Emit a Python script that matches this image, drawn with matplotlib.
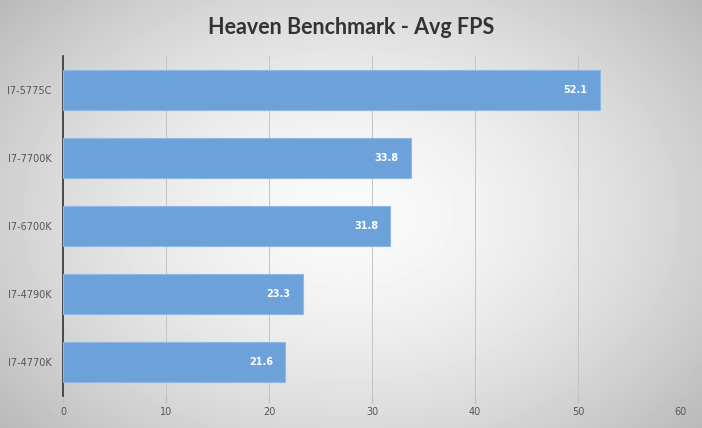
import numpy as np
from matplotlib import pyplot as plt

cpus=['I7-5775C','I7-7700K','I7-6700K','I7-4790K','I7-4770K']
fps=[52.1,33.8,31.8,23.3,21.6]
xticks=[0,10,20,30,40,50,60]

fig=plt.figure(figsize=(7.02,4.28),dpi=100)

# radial grey background
bg=fig.add_axes([0,0,1,1],zorder=-1)
yy,xx=np.mgrid[0:428,0:702]
r=np.sqrt(((xx-351)/420.)**2+((yy-214)/300.)**2)
bg.imshow(np.clip(0.98-0.22*r**1.6,0,1),cmap='gray',vmin=0,vmax=1,aspect='auto')
bg.axis('off')

ax=fig.add_axes([0.0897,0.0748,0.8803,0.7944])
ax.patch.set_alpha(0)
ypos=np.arange(len(cpus))
ax.barh(ypos,fps,height=0.59,color='#6ca2d9',edgecolor='#8fb9e4',linewidth=0.8,zorder=3)
for y,v in zip(ypos,fps):
    ax.text(v-1.2,y,'%.1f'%v,ha='right',va='center',color='white',fontsize=7,\
            fontweight='bold',zorder=4)
ax.set_yticks(ypos)
ax.set_yticklabels(cpus,fontsize=7,color='#555555')
ax.set_ylim(len(cpus)-0.5,-0.5)
ax.set_xlim(0,60)
ax.set_xticks(xticks)
ax.set_xticklabels([str(t) for t in xticks],fontsize=7,color='#555555')
ax.grid(axis='x',color='#c4c4c4',linewidth=0.7,zorder=0)
for s in ['top','right','bottom']:
    ax.spines[s].set_visible(False)
ax.spines['left'].set_color('#333333')
ax.spines['left'].set_linewidth(1.2)
ax.tick_params(axis='y',length=0,pad=8)
ax.tick_params(axis='x',length=5,color='#bbbbbb',pad=3)
fig.text(0.5,0.935,'Heaven Benchmark - Avg FPS',ha='center',va='center',\
         fontsize=15.5,fontweight='bold',color='#333333',family='Lato')
plt.savefig('out.png',dpi=100)
